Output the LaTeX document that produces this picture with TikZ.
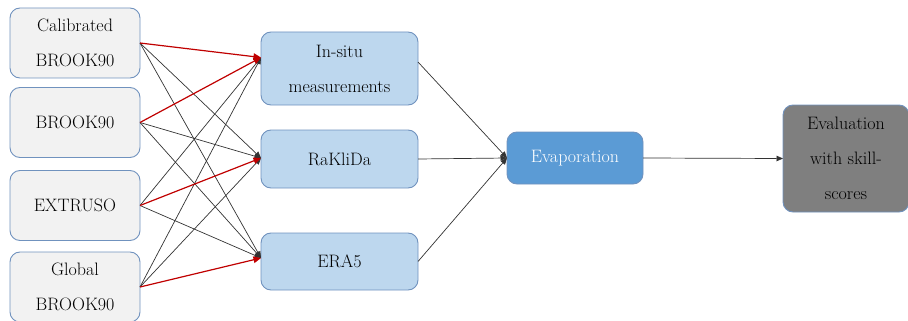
\documentclass[tikz,border=0pt]{standalone}
\usetikzlibrary{calc,arrows.meta}
\definecolor{lgray}{HTML}{F2F2F2}
\definecolor{lblue}{HTML}{BDD7EE}
\definecolor{mblue}{HTML}{5B9BD5}
\definecolor{dgray}{HTML}{7F7F7F}
\definecolor{bord}{HTML}{7092BE}
\definecolor{redarr}{HTML}{C00000}
\tikzset{
  box/.style={draw=bord, line width=0.9pt, rounded corners=10pt, inner sep=0pt, outer sep=0pt, align=center, font=\rmfamily\fontsize{18}{35}\selectfont},
  srcbox/.style={box, fill=lgray, minimum width=130pt, minimum height=70pt},
  midbox/.style={box, fill=lblue, minimum width=157pt},
  conn/.style={draw=black!80, line width=0.7pt, -{Triangle[length=6.5pt,width=5.5pt]}},
  redconn/.style={draw=redarr, line width=1.2pt, -{Triangle[length=7.5pt,width=6.5pt]}}
}
\begin{document}
\begin{tikzpicture}[x=1pt,y=-1pt]
\useasboundingbox (0,0) rectangle (908,321);
\node[srcbox] (s1) at (75,43) {Calibrated\\BROOK90};
\node[srcbox] (s2) at (75,122.5) {BROOK90};
\node[srcbox] (s3) at (75,205.5) {EXTRUSO};
\node[srcbox] (s4) at (75,287) {Global\\BROOK90};
\node[midbox, minimum height=73pt] (A) at (339.5,68.5) {In-situ\\measurements};
\node[midbox, minimum height=58pt] (B) at (339.5,159) {RaKliDa};
\node[midbox, minimum height=57pt] (C) at (339.5,261.5) {ERA5};
\node[box, fill=mblue, text=white, minimum width=136pt, minimum height=52pt] (E) at (575,158) {Evaporation};
\node[box, fill=dgray, minimum width=126pt, minimum height=107pt] (V) at (846,158.5) {Evaluation\\with skill-\\scores};
\coordinate (Ain) at ($(A.west)+(0,-11)$);
\coordinate (Bin) at ($(B.west)+(0,-1)$);
\coordinate (Cin) at ($(C.west)+(0,-3.5)$);
\coordinate (Aout) at ($(A.east)+(0,-6.5)$);
% black connectors
\draw[conn] (s1.east) -- (Bin);
\draw[conn] (s1.east) -- (Cin);
\draw[conn] (s2.east) -- (Bin);
\draw[conn] (s2.east) -- (Cin);
\draw[conn] (s3.east) -- (Ain);
\draw[conn] (s3.east) -- (Cin);
\draw[conn] (s4.east) -- (Ain);
\draw[conn] (s4.east) -- (Bin);
% red connectors
\draw[redconn] (s1.east) -- (Ain);
\draw[redconn] (s2.east) -- (Ain);
\draw[redconn] (s3.east) -- (Bin);
\draw[redconn] (s4.east) -- (Cin);
% to evaporation
\draw[conn] (Aout) -- (E.west);
\draw[conn] (B.east) -- (E.west);
\draw[conn] (C.east) -- (E.west);
\draw[conn] (E.east) -- (V.west);
\end{tikzpicture}
\end{document}
